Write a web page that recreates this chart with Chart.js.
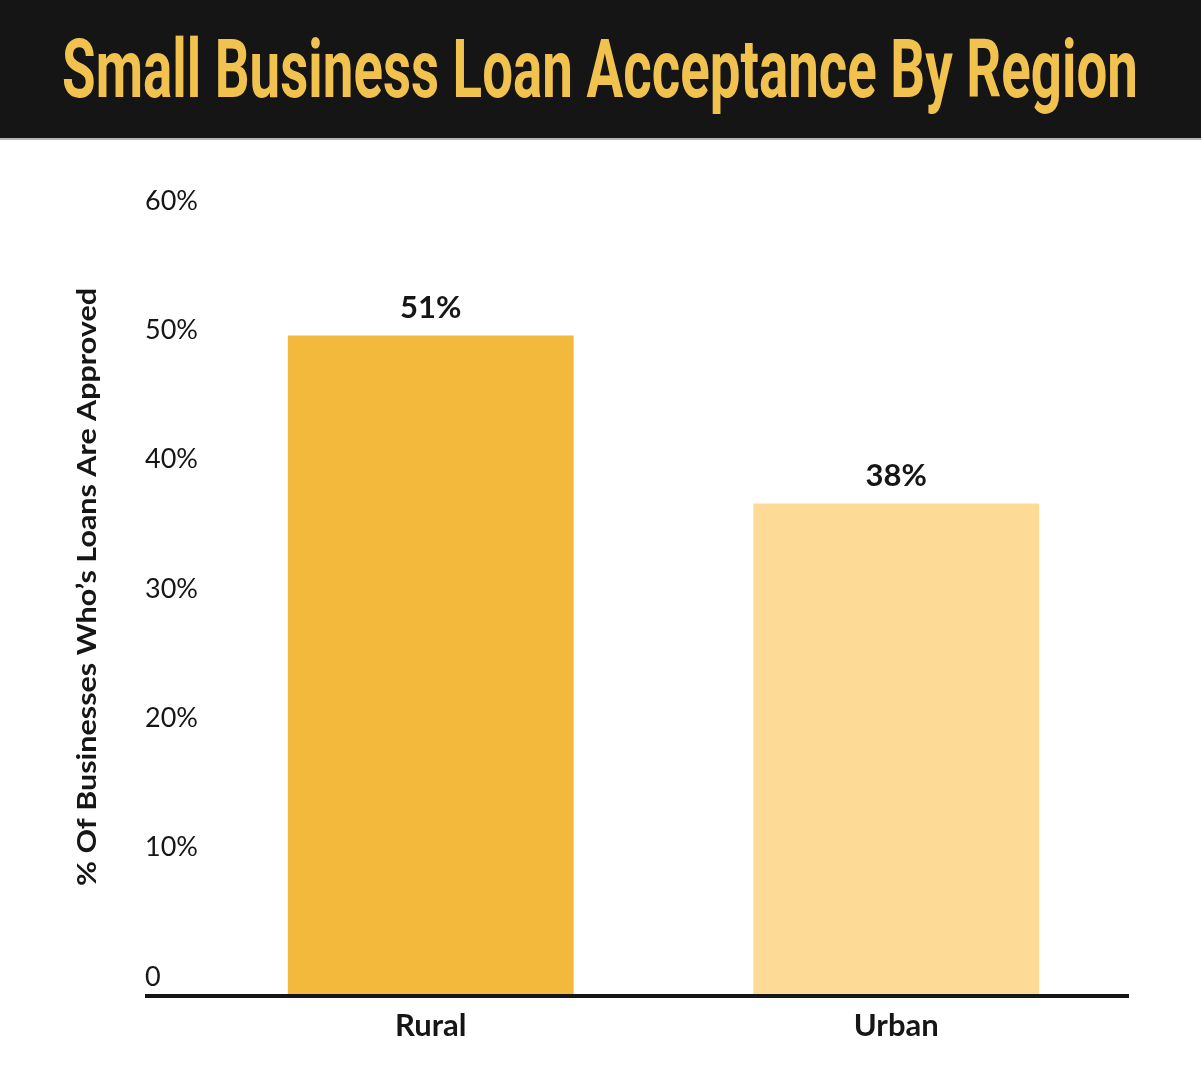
<!DOCTYPE html>
<html>
<head>
<meta charset="utf-8">
<title>Small Business Loan Acceptance By Region</title>
<script src="https://cdn.jsdelivr.net/npm/chart.js@4.4.1/dist/chart.umd.min.js"></script>
<style>
  html, body { margin: 0; padding: 0; background: #fff; }
  #header {
    position: relative; width: 1201px; height: 138px;
    background: #151515; border-bottom: 2px solid #b5b5b5; overflow: hidden;
  }
  #title {
    position: absolute; left: 62px; top: 28px; white-space: nowrap;
    font-family: Roboto, "Noto Sans", sans-serif; font-weight: 700;
    font-size: 82px; line-height: 82px; color: #f2c24f;
    transform-origin: 0 0; display: inline-block;
  }
  #wrap { position: relative; width: 1201px; height: 940px; }
</style>
</head>
<body>
<div id="header"><span id="title">Small Business Loan Acceptance By Region</span></div>
<div id="wrap"><canvas id="chart"></canvas></div>
<script>
// --- Data ---
const CATEGORIES = ['Rural', 'Urban'];
const VALUES = [51, 38];
const BAR_COLORS = ['#f2b93c', '#fdda96'];
const Y_TICKS = ['0', '10%', '20%', '30%', '40%', '50%', '60%'];
const Y_TITLE = '% Of Businesses Who\u2019s Loans Are Approved';

// squeeze the title into a condensed look
(function fitTitle() {
  const t = document.getElementById('title');
  const w = t.getBoundingClientRect().width;
  t.style.transform = 'scaleX(' + (1076 / w) + ')';
})();

const INK = '#161616';
const FONT = 'Lato, "Open Sans", sans-serif';

// value labels over bars + base line + rotated axis title
const extras = {
  id: 'extras',
  afterDatasetsDraw(chart) {
    const { ctx, chartArea, scales } = chart;
    const meta = chart.getDatasetMeta(0);
    ctx.save();
    ctx.fillStyle = INK;
    ctx.font = '700 31px ' + FONT;
    ctx.textAlign = 'center';
    ctx.textBaseline = 'bottom';
    meta.data.forEach((bar, i) => {
      ctx.fillText(VALUES[i] + '%', bar.x, bar.y - 12);
    });

    const y0 = scales.y.getPixelForValue(0);
    ctx.strokeStyle = INK;
    ctx.lineWidth = 4;
    ctx.beginPath();
    ctx.moveTo(145, y0 + 1);
    ctx.lineTo(chartArea.right, y0 + 1);
    ctx.stroke();

    ctx.translate(87, 447);
    ctx.rotate(-Math.PI / 2);
    ctx.font = '700 27px ' + FONT;
    ctx.textBaseline = 'middle';
    const w = ctx.measureText(Y_TITLE).width;
    ctx.scale(598 / w, 1);
    ctx.fillText(Y_TITLE, 0, 0);
    ctx.restore();
  }
};

new Chart(document.getElementById('chart'), {
  type: 'bar',
  data: {
    labels: CATEGORIES,
    datasets: [{
      data: VALUES,
      backgroundColor: BAR_COLORS,
      borderWidth: 0,
      barPercentage: 0.614,
      categoryPercentage: 1
    }]
  },
  options: {
    responsive: true,
    maintainAspectRatio: false,
    animation: false,
    layout: { padding: { left: 145, right: 72, top: 79, bottom: 0 } },
    plugins: { legend: { display: false }, tooltip: { enabled: false } },
    scales: {
      x: {
        grid: { display: false, drawTicks: false },
        border: { display: false },
        ticks: { color: INK, font: { family: FONT, size: 31, weight: '700' }, padding: 12 },
        afterFit: s => { s.height = 85; }
      },
      y: {
        min: 0, max: 60,
        grid: { display: false, drawTicks: false },
        border: { display: false },
        ticks: {
          stepSize: 10,
          color: INK,
          font: { family: FONT, size: 27 },
          crossAlign: 'far',
          labelOffset: -18,
          padding: 0,
          callback: (v, i) => Y_TICKS[i]
        },
        afterFit: s => { s.width = 53; }
      }
    }
  },
  plugins: [extras]
});
</script>
</body>
</html>
